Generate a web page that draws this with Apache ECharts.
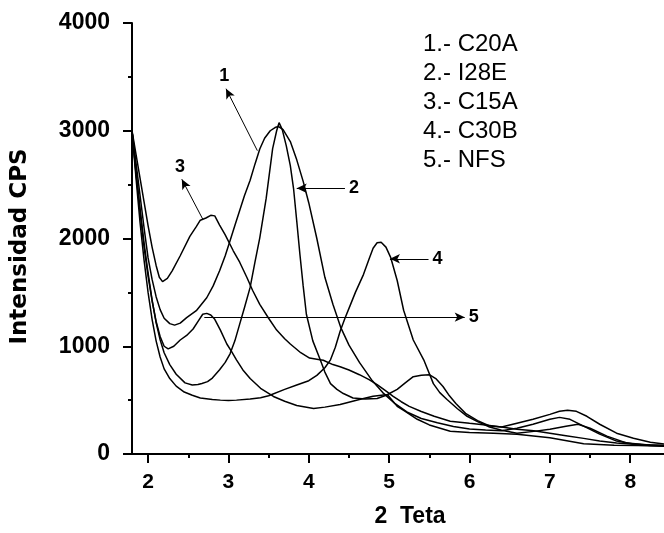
<!DOCTYPE html>
<html>
<head>
<meta charset="utf-8">
<script src="https://cdn.jsdelivr.net/npm/echarts@6/dist/echarts.min.js"></script>
<style>html,body{margin:0;padding:0;background:#fff}#c{width:664px;height:533px}</style>
</head>
<body>
<div id="c"></div>
<script>
// ---- data ----
var seriesNames = ['1.- C20A', '2.- I28E', '3.- C15A', '4.- C30B', '5.- NFS'];
var xMajorTicks = [2, 3, 4, 5, 6, 7, 8];
var xMinorTicks = [2.5, 3.5, 4.5, 5.5, 6.5, 7.5];
var yTicks = [0, 1000, 2000, 3000, 4000];

var c20a = [[1.8,3000],[1.85,2700],[1.9,2400],[1.95,2100],[2.0,1820],[2.05,1620],[2.1,1460],[2.15,1340],[2.2,1260],[2.27,1210],[2.33,1196],[2.4,1215],[2.48,1265],[2.6,1330],[2.73,1450],[2.81,1560],[2.89,1700],[2.96,1840],[3.02,1980],[3.08,2120],[3.14,2260],[3.2,2400],[3.27,2540],[3.33,2690],[3.39,2830],[3.45,2930],[3.52,3000],[3.58,3030],[3.62,3040],[3.68,3010],[3.77,2900],[3.85,2730],[3.93,2530],[4.0,2330],[4.1,2000],[4.2,1640],[4.3,1390],[4.4,1170],[4.5,1010],[4.63,850],[4.78,690],[4.92,570],[5.07,470],[5.22,390],[5.4,330],[5.6,290],[5.8,255],[6.0,232],[6.2,222],[6.4,215],[6.59,239],[6.79,276],[7.0,322],[7.12,340],[7.25,322],[7.42,258],[7.62,184],[7.83,120],[8.04,92],[8.25,80],[8.42,74]];
var i28e = [[1.8,3000],[1.85,2620],[1.9,2280],[1.95,1960],[2.0,1680],[2.05,1430],[2.1,1220],[2.15,1060],[2.2,940],[2.27,830],[2.35,740],[2.46,660],[2.55,640],[2.62,645],[2.67,655],[2.74,672],[2.8,705],[2.89,782],[2.96,850],[3.02,930],[3.08,1050],[3.14,1205],[3.2,1360],[3.27,1546],[3.33,1780],[3.39,2006],[3.47,2374],[3.55,2834],[3.6,3000],[3.63,3075],[3.67,3010],[3.72,2860],[3.77,2677],[3.81,2466],[3.85,2162],[3.89,1849],[3.93,1560],[3.97,1297],[4.05,1050],[4.14,880],[4.2,760],[4.27,653],[4.35,600],[4.43,561],[4.55,520],[4.7,510],[4.85,515],[4.98,550],[5.1,442],[5.2,395],[5.35,322],[5.5,270],[5.76,212],[6.0,200],[6.3,192],[6.59,184],[7.0,150],[7.42,95],[7.8,82],[8.1,78],[8.42,72]];
var c15a = [[1.8,3000],[1.85,2780],[1.9,2560],[1.95,2340],[2.0,2120],[2.05,1920],[2.1,1750],[2.14,1640],[2.18,1600],[2.24,1630],[2.3,1700],[2.4,1840],[2.52,2020],[2.6,2110],[2.65,2170],[2.72,2190],[2.78,2215],[2.83,2210],[2.89,2125],[2.96,2033],[3.06,1886],[3.14,1780],[3.23,1638],[3.3,1520],[3.39,1389],[3.5,1260],[3.6,1150],[3.7,1070],[3.77,1021],[3.9,940],[4.01,890],[4.1,880],[4.18,870],[4.3,830],[4.39,810],[4.5,780],[4.63,736],[4.75,690],[4.85,644],[4.95,590],[5.05,534],[5.15,485],[5.25,442],[5.4,395],[5.56,350],[5.76,304],[6.0,285],[6.2,270],[6.4,250],[6.59,230],[6.8,215],[7.0,193],[7.2,170],[7.42,145],[7.62,120],[7.83,101],[8.04,90],[8.25,83],[8.42,80]];
var c30b = [[1.8,3000],[1.85,2560],[1.9,2150],[1.95,1800],[2.0,1500],[2.05,1250],[2.1,1050],[2.15,900],[2.2,790],[2.27,700],[2.35,630],[2.45,575],[2.55,545],[2.65,520],[2.8,506],[2.9,500],[3.0,497],[3.1,500],[3.27,510],[3.4,522],[3.5,540],[3.7,600],[3.85,640],[4.0,680],[4.1,730],[4.2,800],[4.27,874],[4.33,990],[4.39,1140],[4.45,1260],[4.51,1370],[4.58,1500],[4.68,1665],[4.75,1810],[4.8,1910],[4.85,1960],[4.9,1965],[4.96,1920],[5.02,1822],[5.1,1610],[5.18,1334],[5.3,1058],[5.43,874],[5.55,653],[5.63,570],[5.72,506],[5.85,420],[5.97,350],[6.1,300],[6.25,250],[6.4,220],[6.59,193],[6.8,210],[7.0,230],[7.2,258],[7.35,276],[7.5,239],[7.71,166],[7.96,101],[8.2,85],[8.42,80]];
var nfs = [[1.8,3000],[1.85,2600],[1.9,2250],[1.95,1920],[2.0,1650],[2.05,1420],[2.1,1230],[2.15,1090],[2.2,1000],[2.25,975],[2.32,1000],[2.4,1058],[2.48,1100],[2.56,1160],[2.63,1240],[2.68,1297],[2.73,1305],[2.78,1290],[2.83,1250],[2.9,1150],[2.98,1021],[3.04,950],[3.1,874],[3.18,780],[3.27,700],[3.4,610],[3.56,534],[3.7,490],[3.85,450],[4.06,423],[4.2,435],[4.39,460],[4.63,506],[4.8,535],[4.98,552],[5.1,600],[5.2,660],[5.3,718],[5.4,730],[5.5,736],[5.58,700],[5.67,626],[5.75,540],[5.83,469],[5.95,377],[6.1,310],[6.25,260],[6.4,250],[6.59,285],[6.79,322],[7.0,368],[7.12,396],[7.22,405],[7.33,396],[7.46,350],[7.62,276],[7.83,193],[8.04,147],[8.25,110],[8.42,92]];
var allSeries = [c20a, i28e, c15a, c30b, nfs];

// annotation arrows (data coordinates): label, tail, head, label side
var arrowLabels = ['1', '3', '2', '4', '5'];
var arrowTails = [[3.36,2815],[2.68,2180],[4.45,2466],[5.49,1812],[2.7,1270]];
var arrowHeads = [[2.97,3390],[2.42,2550],[3.85,2466],[5.01,1812],[5.94,1270]];
var arrowLabelAtHead = [true, true, false, false, true];

// ---- chart ----
var FONT = "'Liberation Sans', Arial, sans-serif";
var chart = echarts.init(document.getElementById('c'), null, {renderer: 'canvas'});

var series = allSeries.map(function (d, i) {
  return {
    name: seriesNames[i], type: 'line', data: d, symbol: 'none', smooth: false,
    xAxisIndex: 0, yAxisIndex: 0,
    lineStyle: {color: '#000', width: 1.5}, itemStyle: {color: '#000'},
    silent: true, z: 2
  };
});

var mlData = arrowLabels.map(function (lab, i) {
  var atHead = arrowLabelAtHead[i];
  return [
    {coord: arrowTails[i], symbol: 'none'},
    {coord: arrowHeads[i], symbol: 'arrow', symbolSize: [7, 10],
     label: {show: true, formatter: lab, position: atHead ? 'end' : 'start'}}
  ];
});

series.push({
  type: 'line', data: [], symbol: 'none', silent: true, xAxisIndex: 0, yAxisIndex: 0,
  markLine: {
    silent: true, animation: false, symbol: ['none', 'arrow'], precision: 4,
    lineStyle: {color: '#000', width: 1, type: 'solid'},
    label: {show: true, color: '#000', fontFamily: FONT, fontWeight: 'bold', fontSize: 18, distance: 4},
    emphasis: {disabled: true},
    data: mlData
  }
});

function plain(v) { return String(v); }

chart.setOption({
  animation: false,
  backgroundColor: '#fff',
  title: {
    text: seriesNames.join('\n'),
    left: 418, top: 25, padding: 5,
    textStyle: {fontFamily: FONT, fontWeight: 'normal', fontSize: 24, color: '#000', lineHeight: 28.9}
  },
  grid: {left: 132, right: 0, top: 23, bottom: 75, containLabel: false},
  xAxis: [{
    type: 'value', min: 1.8, max: 8.42,
    name: '2  Teta', nameLocation: 'middle', nameGap: 51,
    nameTextStyle: {fontFamily: FONT, fontWeight: 'bold', fontSize: 23, color: '#000', padding: [0, 0, 0, 24]},
    axisLine: {show: true, onZero: false, lineStyle: {color: '#000', width: 2}},
    axisTick: {show: true, inside: false, length: 9, lineStyle: {color: '#000', width: 2}, customValues: xMajorTicks},
    axisLabel: {show: true, margin: 18, fontFamily: FONT, fontWeight: 'bold', fontSize: 21, color: '#000',
      customValues: xMajorTicks, formatter: plain},
    splitLine: {show: false}, minorTick: {show: false}
  }, {
    type: 'value', min: 1.8, max: 8.42, position: 'bottom',
    axisLine: {show: false},
    axisTick: {show: true, inside: false, length: 4, lineStyle: {color: '#000', width: 2}, customValues: xMinorTicks},
    axisLabel: {show: false}, splitLine: {show: false}
  }],
  yAxis: [{
    type: 'value', min: 0, max: 4000, interval: 1000,
    name: 'Intensidad CPS', nameLocation: 'middle', nameGap: 100, nameRotate: 90,
    nameTextStyle: {fontFamily: "'DejaVu Sans', 'Liberation Sans', sans-serif", fontWeight: 'bold', fontSize: 23, color: '#000',
      padding: [0, 16, 0, 0]},
    axisLine: {show: true, onZero: false, lineStyle: {color: '#000', width: 2}},
    axisTick: {show: true, inside: false, length: 9, lineStyle: {color: '#000', width: 2}},
    minorTick: {show: true, splitNumber: 2, length: 4, lineStyle: {color: '#000', width: 2}},
    axisLabel: {show: true, margin: 22, fontFamily: FONT, fontWeight: 'bold', fontSize: 23, color: '#000',
      customValues: yTicks, formatter: plain},
    splitLine: {show: false}, minorSplitLine: {show: false}
  }],
  tooltip: {show: false},
  series: series
});
</script>
</body>
</html>
